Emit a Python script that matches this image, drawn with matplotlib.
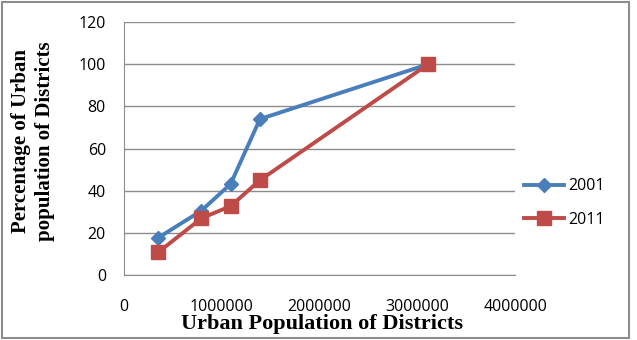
import matplotlib.pyplot as plt
from matplotlib.patches import Rectangle

# urban population of districts and percentage of urban population
pop_2001 = [350000, 790000, 1090000, 1390000, 3110000]
pct_2001 = [17.7, 30.5, 43.2, 74.0, 100.0]
pop_2011 = [350000, 790000, 1090000, 1390000, 3110000]
pct_2011 = [10.8, 26.9, 32.7, 45.0, 100.0]
labels = ["2001", "2011"]

fig = plt.figure(figsize=(6.37, 3.4), dpi=100)
ax = fig.add_axes([0.1947, 0.191, 0.614, 0.744])

ax.plot(pop_2001, pct_2001, color="#4A7EBB", lw=2.8, marker="D", ms=7.5,
        label=labels[0])
ax.plot(pop_2011, pct_2011, color="#BE4B48", lw=2.8, marker="s", ms=9.5,
        label=labels[1])

ax.set_xlim(0, 4000000)
ax.set_ylim(0, 120)
ax.set_xticks(range(0, 4000001, 1000000))
ax.set_yticks(range(0, 121, 20))
ax.set_xticklabels([str(v) for v in range(0, 4000001, 1000000)],
                   family="Open Sans", fontsize=11.5)
ax.set_yticklabels([str(v) for v in range(0, 121, 20)],
                   family="Open Sans", fontsize=11.5)
ax.tick_params(axis="y", length=0, pad=13)
ax.tick_params(axis="x", length=0, pad=17)
ax.grid(axis="y", color="#8c8c8c", lw=1)
ax.set_axisbelow(True)
for s in ["top", "right"]:
    ax.spines[s].set_visible(False)
for s in ["left", "bottom"]:
    ax.spines[s].set_color("#8c8c8c")

fig.text(322 / 637, 1 - 329 / 340, "Urban Population of Districts",
         family="Liberation Serif", fontsize=16, fontweight="bold",
         ha="center", va="baseline")
fig.text(33 / 637, 1 - 141 / 340, "Percentage of Urban\npopulation of Districts",
         family="Liberation Serif", fontsize=15, fontweight="bold",
         ha="center", va="center", rotation=90, linespacing=1.3)

ax.legend(loc="upper left", bbox_to_anchor=(518 / 637, 1 - 172 / 340),
          bbox_transform=fig.transFigure, frameon=False,
          prop={"family": "Open Sans", "size": 11.5}, handlelength=2.5,
          labelspacing=1.1, handletextpad=0.25, borderaxespad=0)

fig.patches.append(Rectangle((2 / 637, 2 / 340), 627 / 637, 336 / 340,
                             transform=fig.transFigure, fill=False,
                             edgecolor="#8c8c8c", lw=1.5))

fig.savefig("out.png", dpi=100)
